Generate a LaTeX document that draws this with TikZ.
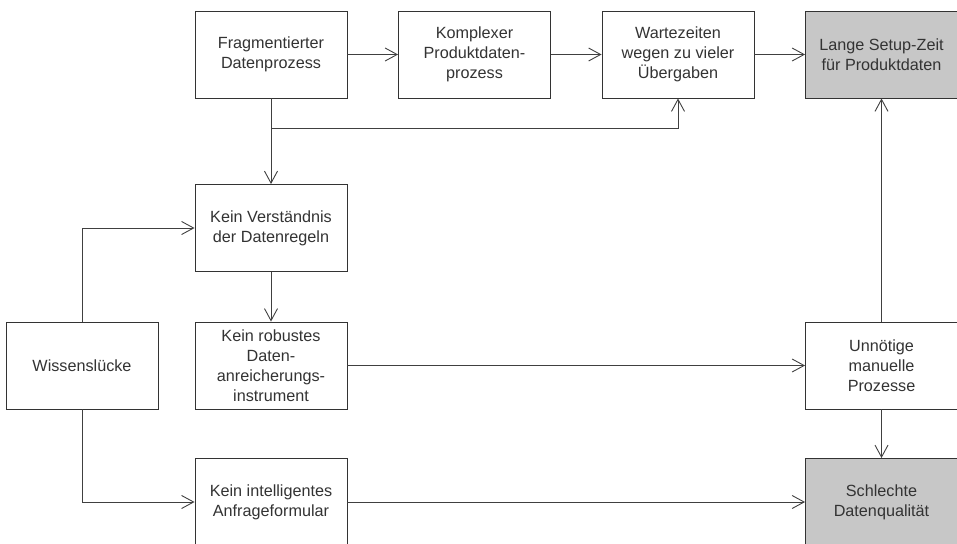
\documentclass[tikz,border=0pt]{standalone}
\usepackage{fontspec}
\setmainfont{Liberation Sans}
\usetikzlibrary{arrows.meta}

\begin{document}
\begin{tikzpicture}[x=1pt,y=1pt,>={Straight Barb[length=12pt,width=13pt,line width=0.9pt]},box/.style={draw=black!80,line width=0.9pt,fill=white,minimum width=152pt,minimum height=87pt,align=center,font=\fontsize{16.2}{20}\selectfont,text=black!80,inner sep=2pt},effect/.style={box,fill=black!22},arrow/.style={->,draw=black!75,line width=0.9pt}]
\useasboundingbox (0,0) rectangle (957,-543);
\node[box] (frag) at (271,-54.5) {Fragmentierter\\Datenprozess}; \node[box] (komplex) at (474.5,-54.5) {Komplexer\\Produktdaten-\\prozess};
\node[box] (wart) at (678,-54.5) {Wartezeiten\\wegen zu vieler\\Übergaben}; \node[effect] (lange) at (881.5,-54.5) {Lange Setup-Zeit\\für Produktdaten};
\node[box] (kverst) at (271,-228) {Kein Verständnis\\der Datenregeln}; \node[box] (krob) at (271,-365.5) {Kein robustes\\Daten-\\anreicherungs-\\instrument};
\node[box] (wissen) at (82,-365.5) {Wissenslücke}; \node[box] (unn) at (881.5,-365.5) {Unnötige\\manuelle\\Prozesse};
\node[box] (kintel) at (271,-502) {Kein intelligentes\\Anfrageformular}; \node[effect] (schlecht) at (881.5,-502) {Schlechte\\Datenqualität};
\coordinate (split) at (271,-128);
\draw[arrow] (frag) -- (komplex); \draw[arrow] (komplex) -- (wart); \draw[arrow] (wart) -- (lange);
\draw[arrow] (frag) -- (kverst); \draw[arrow] (split) -| (wart); \draw[arrow] (kverst) -- (krob);
\draw[arrow] (wissen) |- (kverst); \draw[arrow] (wissen) |- (kintel);
\draw[arrow] (krob) -- (unn); \draw[arrow] (kintel) -- (schlecht);
\draw[arrow] (unn) -- (lange); \draw[arrow] (unn) -- (schlecht);
\end{tikzpicture}
\end{document}
